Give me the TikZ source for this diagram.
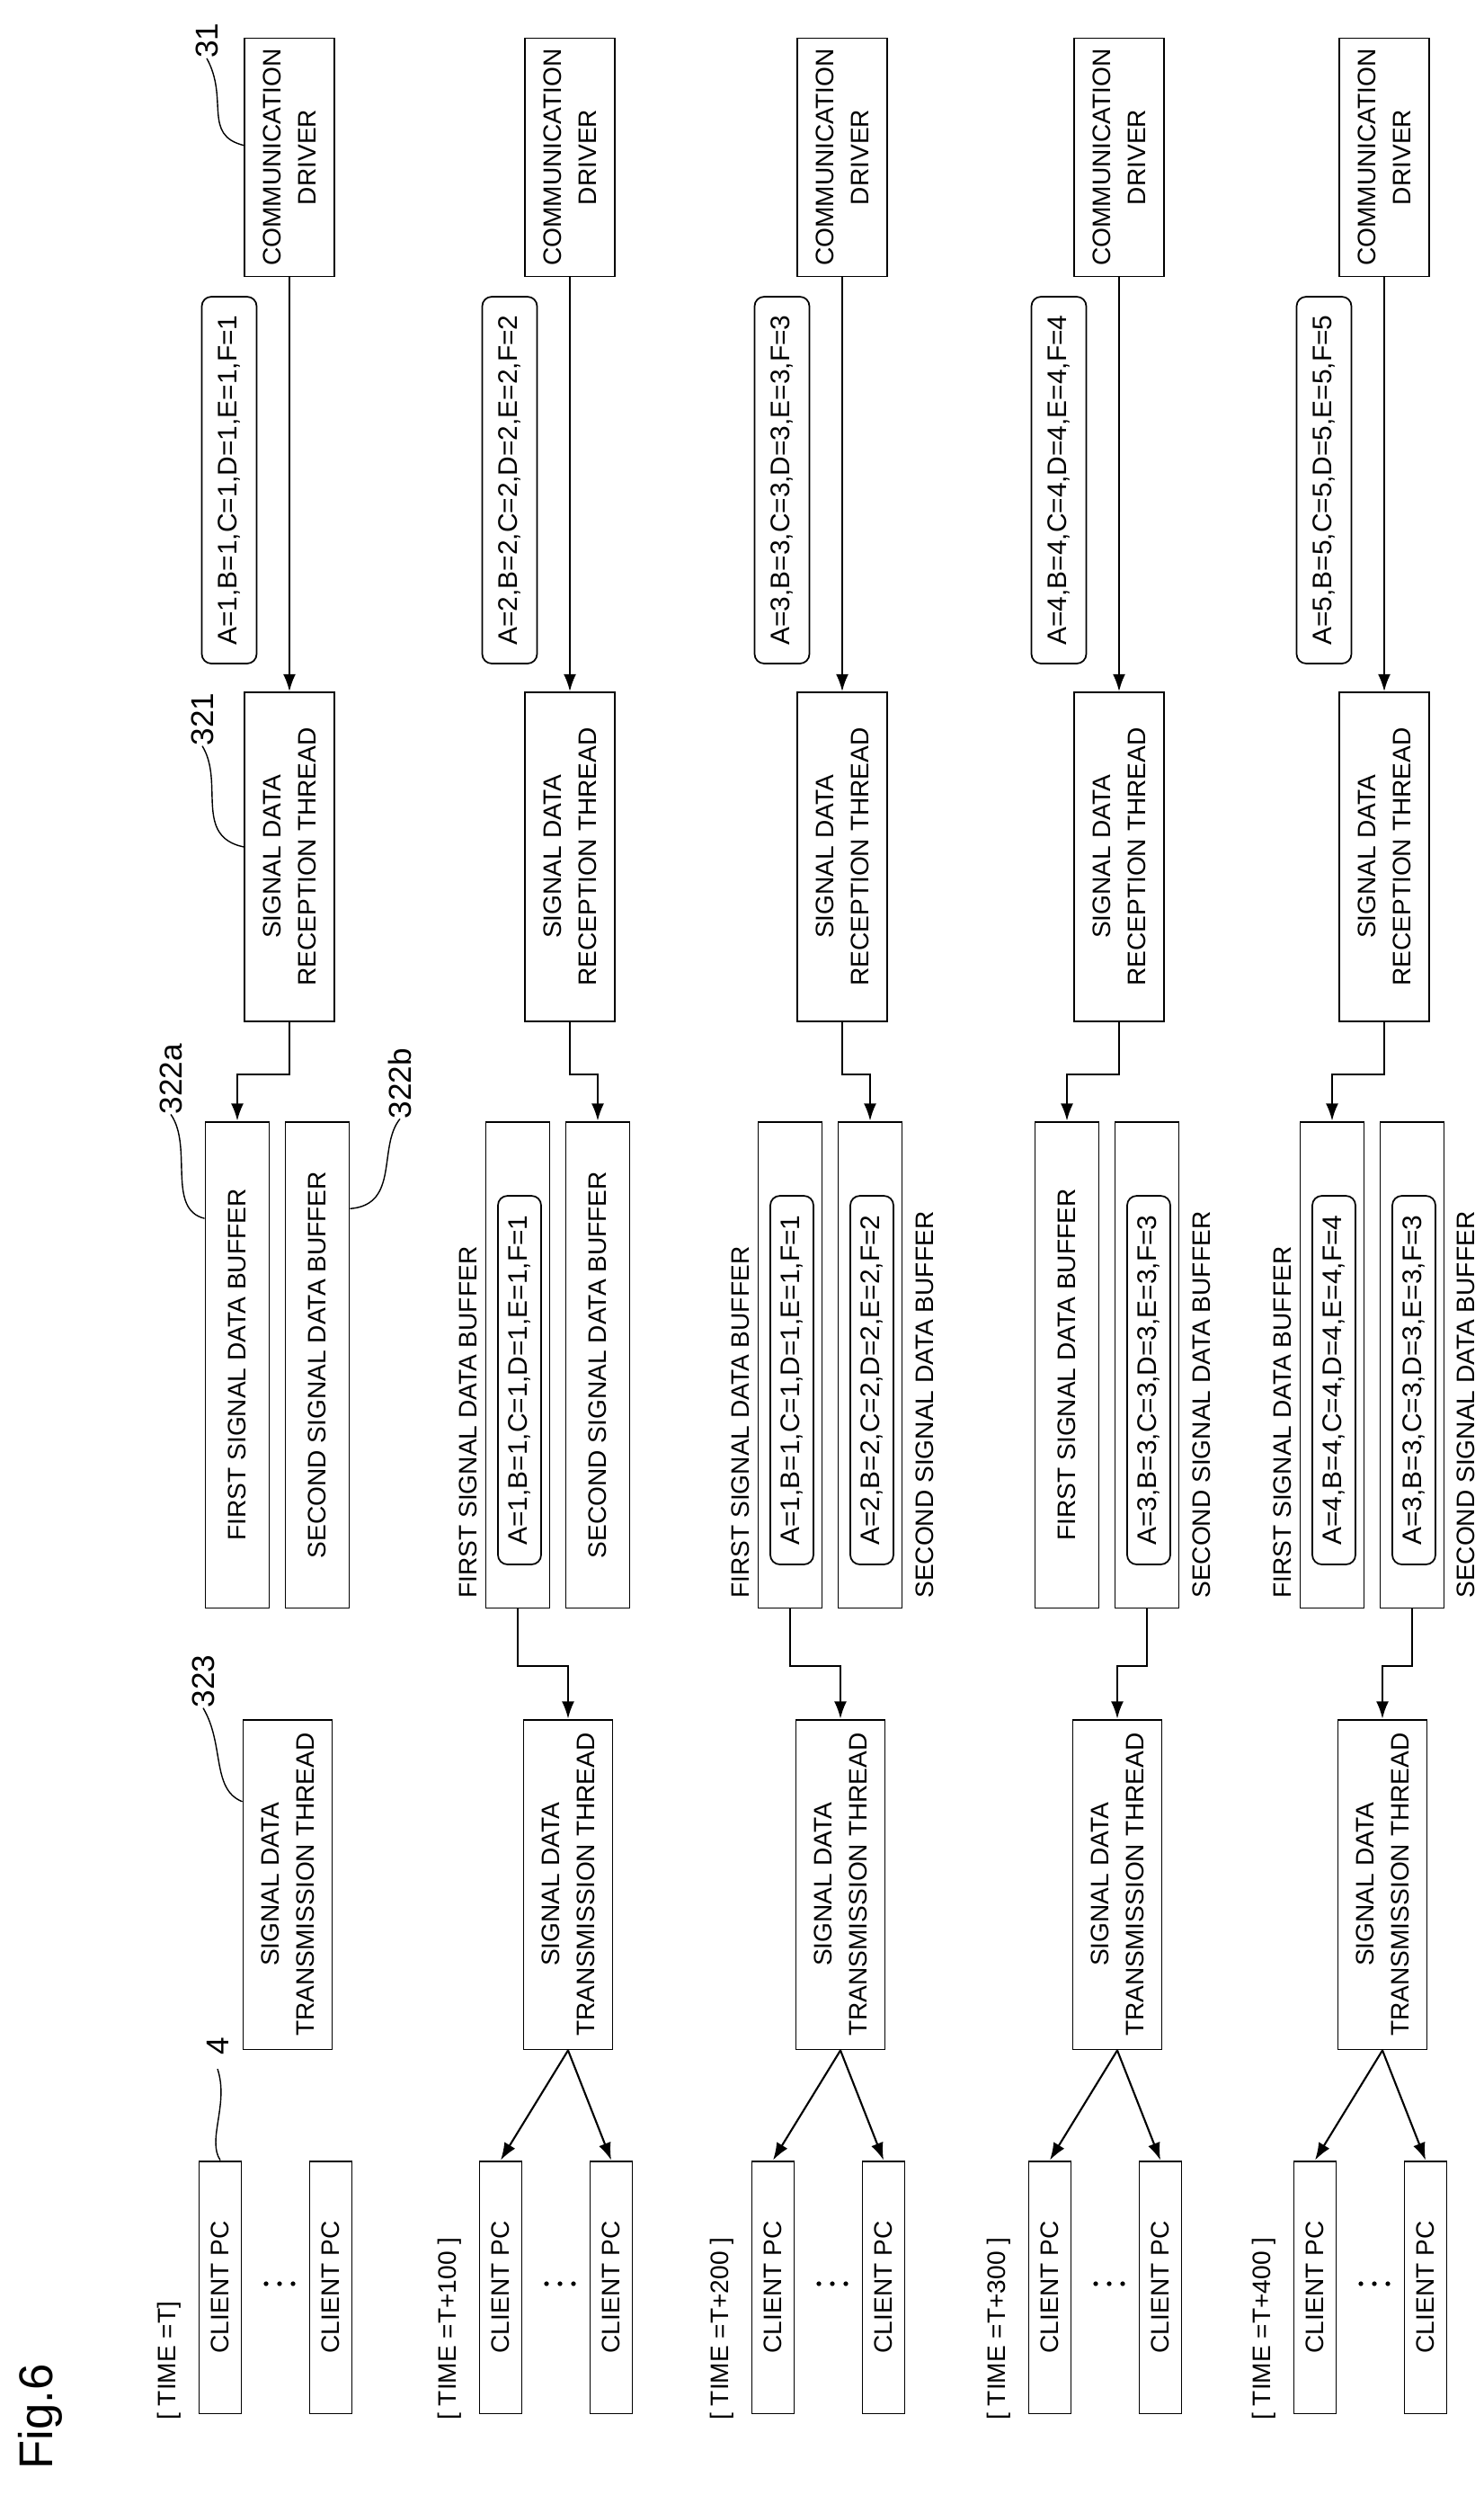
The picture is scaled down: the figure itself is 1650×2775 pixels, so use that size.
\documentclass[tikz,border=0pt]{standalone}
\usepackage{fontspec}
\setmainfont{Liberation Sans}
\usetikzlibrary{arrows.meta,calc}

\tikzset{
  blk/.style={draw, line width=1.1pt, rotate=90, align=center, inner sep=0pt,
    font=\fontsize{16}{22}\selectfont},
  dat/.style={draw, line width=1pt, rounded corners=6pt, rotate=90, inner sep=0pt,
    font=\fontsize{17}{20}\selectfont},
  lbl/.style={rotate=90, inner sep=0pt, font=\fontsize{16}{19}\selectfont},
  num/.style={rotate=90, inner sep=0pt, font=\fontsize{20}{24}\selectfont},
  flow/.style={line width=1.2pt, -{Latex[length=11pt,width=8pt]}},
  lead/.style={line width=0.8pt},
}

\begin{document}
\begin{tikzpicture}[x=0.02cm, y=-0.02cm]
    \path[use as bounding box] (0,0) rectangle (1650,2775);
    \node[rotate=90, font=\fontsize{30}{36}\selectfont] (fig) at (45,2688) {Fig.6};

    % one panel per time step
    \foreach \i/\X/\n/\t in {1/0/1/{T]}, 2/312/2/{T+100 ]}, 3/615/3/{T+200 ]}, 4/923/4/{T+300 ]}, 5/1218/5/{T+400 ]}} {
        \begin{scope}[shift={(\X,0)}]
            \node[blk, minimum width=5.3cm, minimum height=2cm] (comm\i) at (322,175) {COMMUNICATION\\DRIVER};
            \node[dat, minimum width=8.16cm, minimum height=1.22cm] (cdat\i) at (255,534) {A=\n,B=\n,C=\n,D=\n,E=\n,F=\n};
            \node[blk, minimum width=7.32cm, minimum height=2cm] (recv\i) at (322,953) {SIGNAL DATA\\RECEPTION THREAD};
            \node[blk, minimum width=7.34cm, minimum height=1.98cm] (trans\i) at (320,2096) {SIGNAL DATA\\TRANSMISSION THREAD};
            \node[blk, minimum width=5.62cm, minimum height=0.94cm] (pcA\i) at (245,2544) {CLIENT PC};
            \node[blk, minimum width=5.62cm, minimum height=0.94cm] (pcB\i) at (368,2544) {CLIENT PC};
            \node[lbl, anchor=west] (time\i) at (188,2692) {[ TIME =\t};
            \foreach \d in {296,311,326} \fill (\d,2540) circle (1.5pt);
            \draw[flow] (comm\i.west) -- (recv\i.east);
        \end{scope}
    }

    % buffers
    \tikzset{buf/.style={blk, minimum width=10.82cm, minimum height=1.42cm},
             bdat/.style={dat, minimum width=8.2cm, minimum height=0.96cm}}
    \node[buf] (bufA1) at (264,1518) {FIRST SIGNAL DATA BUFFER};
    \node[buf] (bufB1) at (353,1518) {SECOND SIGNAL DATA BUFFER};

    \node[buf] (bufA2) at (576,1518) {};
    \node[bdat] at (578,1535) {A=1,B=1,C=1,D=1,E=1,F=1};
    \node[lbl, anchor=west] at (521,1778) {FIRST SIGNAL DATA BUFFER};
    \node[buf] (bufB2) at (665,1518) {SECOND SIGNAL DATA BUFFER};

    \node[buf] (bufA3) at (879,1518) {};
    \node[bdat] at (881,1535) {A=1,B=1,C=1,D=1,E=1,F=1};
    \node[lbl, anchor=west] at (824,1778) {FIRST SIGNAL DATA BUFFER};
    \node[buf] (bufB3) at (968,1518) {};
    \node[bdat] at (970,1535) {A=2,B=2,C=2,D=2,E=2,F=2};
    \node[lbl, anchor=west] at (1029,1778) {SECOND SIGNAL DATA BUFFER};

    \node[buf] (bufA4) at (1187,1518) {FIRST SIGNAL DATA BUFFER};
    \node[buf] (bufB4) at (1276,1518) {};
    \node[bdat] at (1278,1535) {A=3,B=3,C=3,D=3,E=3,F=3};
    \node[lbl, anchor=west] at (1337,1778) {SECOND SIGNAL DATA BUFFER};

    \node[buf] (bufA5) at (1482,1518) {};
    \node[bdat] at (1484,1535) {A=4,B=4,C=4,D=4,E=4,F=4};
    \node[lbl, anchor=west] at (1427,1778) {FIRST SIGNAL DATA BUFFER};
    \node[buf] (bufB5) at (1571,1518) {};
    \node[bdat] at (1573,1535) {A=3,B=3,C=3,D=3,E=3,F=3};
    \node[lbl, anchor=west] at (1631,1778) {SECOND SIGNAL DATA BUFFER};

    % reception thread to buffer
    \draw[flow] (recv1.west) -- ++(0,58) -| (bufA1.east);
    \draw[flow] (recv2.west) -- ++(0,58) -| (bufB2.east);
    \draw[flow] (recv3.west) -- ++(0,58) -| (bufB3.east);
    \draw[flow] (recv4.west) -- ++(0,58) -| (bufA4.east);
    \draw[flow] (recv5.west) -- ++(0,58) -| (bufA5.east);

    % buffer to transmission thread
    \draw[flow] (bufA2.west) -- ++(0,64) -| (trans2.east);
    \draw[flow] (bufA3.west) -- ++(0,64) -| (trans3.east);
    \draw[flow] (bufB4.west) -- ++(0,64) -| (trans4.east);
    \draw[flow] (bufB5.west) -- ++(0,64) -| (trans5.east);

    % transmission thread to client PCs
    \foreach \i in {2,...,5} {
        \draw[flow] (trans\i.west) -- (pcA\i.east);
        \draw[flow] (trans\i.west) -- (pcB\i.east);
    }

    % reference numerals
    \node[num] (r31) at (230,45) {31};
    \draw[lead] (r31.west) .. controls (255,110) and (225,150) .. ($(comm1.north east)!0.45!(comm1.north west)$);
    \node[num] (r321) at (225,800) {321};
    \draw[lead] (r321.west) .. controls (250,870) and (215,930) .. ($(recv1.north east)!0.47!(recv1.north west)$);
    \node[num] (r322a) at (190,1200) {322a};
    \draw[lead] (r322a.west) .. controls (215,1275) and (185,1345) .. ($(bufA1.north east)!0.2!(bufA1.north west)$);
    \node[num] (r322b) at (445,1205) {322b};
    \draw[lead] (r322b.west) .. controls (420,1275) and (445,1340) .. ($(bufB1.south east)!0.18!(bufB1.south west)$);
    \node[num] (r323) at (226,1870) {323};
    \draw[lead] (r323.west) .. controls (250,1940) and (235,1990) .. ($(trans1.north east)!0.25!(trans1.north west)$);
    \node[num] (r4) at (242,2276) {4};
    \draw[lead] (r4.west) ++(0,15) .. controls (255,2340) and (230,2380) .. (pcA1.east);
\end{tikzpicture}
\end{document}
